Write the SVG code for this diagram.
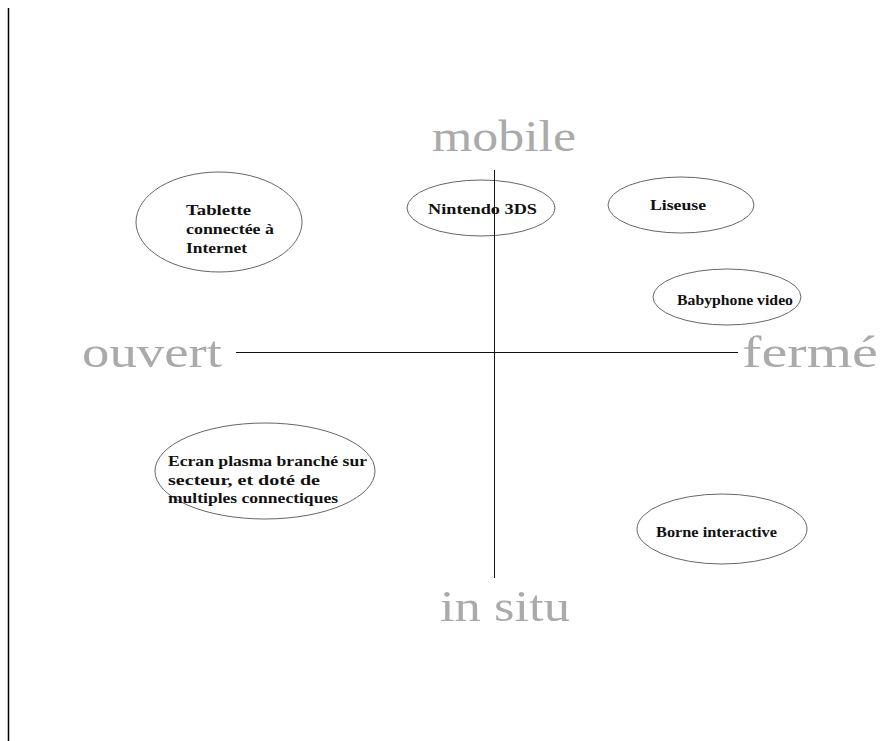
<svg xmlns="http://www.w3.org/2000/svg" width="880" height="741" viewBox="0 0 880 741">
<style>
.axis{stroke:#111;stroke-width:1;fill:none}
.node ellipse{fill:#fff;stroke:#666;stroke-width:1}
.lbl{font-family:"Liberation Serif",serif;font-size:15px;font-weight:bold;fill:#111}
.big{font-family:"Liberation Serif",serif;font-size:44px;fill:#aaa}
</style>
<rect width="880" height="741" fill="#fff"/>
<line x1="8.5" y1="8" x2="8.5" y2="741" stroke="#000" stroke-width="1.5"/>
<g id="n-tablette" class="node">
<ellipse cx="219" cy="222" rx="83" ry="50"/>
<text class="lbl" x="186" y="215" textLength="65" lengthAdjust="spacingAndGlyphs">Tablette</text>
<text class="lbl" x="186" y="234" textLength="88" lengthAdjust="spacingAndGlyphs">connectée à</text>
<text class="lbl" x="186" y="253" textLength="61" lengthAdjust="spacingAndGlyphs">Internet</text>
</g>
<g id="n-nintendo" class="node">
<ellipse cx="481" cy="208" rx="74" ry="28"/>
<text class="lbl" x="428" y="214" textLength="109" lengthAdjust="spacingAndGlyphs">Nintendo 3DS</text>
</g>
<g id="n-liseuse" class="node">
<ellipse cx="681" cy="205" rx="73" ry="28"/>
<text class="lbl" x="650" y="210" textLength="56" lengthAdjust="spacingAndGlyphs">Liseuse</text>
</g>
<g id="n-babyphone" class="node">
<ellipse cx="727" cy="297" rx="74" ry="28"/>
<text class="lbl" x="677" y="305" textLength="116" lengthAdjust="spacingAndGlyphs">Babyphone video</text>
</g>
<g id="n-ecran" class="node">
<ellipse cx="265" cy="471" rx="110" ry="48"/>
<text class="lbl" x="168" y="466" textLength="199" lengthAdjust="spacingAndGlyphs">Ecran plasma branché sur</text>
<text class="lbl" x="168" y="485" textLength="152" lengthAdjust="spacingAndGlyphs">secteur, et doté de</text>
<text class="lbl" x="168" y="503" textLength="170" lengthAdjust="spacingAndGlyphs">multiples connectiques</text>
</g>
<g id="n-borne" class="node">
<ellipse cx="722" cy="529" rx="85" ry="35"/>
<text class="lbl" x="656" y="537" textLength="121" lengthAdjust="spacingAndGlyphs">Borne interactive</text>
</g>
<g id="connectors">
<line class="axis" x1="236" y1="352.5" x2="738" y2="352.5"/>
<line class="axis" x1="494.5" y1="170" x2="494.5" y2="578"/>
</g>
<g id="labels">
<text class="big" x="432" y="151" textLength="144" lengthAdjust="spacingAndGlyphs">mobile</text>
<text class="big" x="82" y="367" textLength="140" lengthAdjust="spacingAndGlyphs">ouvert</text>
<text class="big" x="742" y="367" textLength="136" lengthAdjust="spacingAndGlyphs">fermé</text>
<text class="big" x="440" y="621" textLength="130" lengthAdjust="spacingAndGlyphs">in situ</text>
</g>
</svg>
